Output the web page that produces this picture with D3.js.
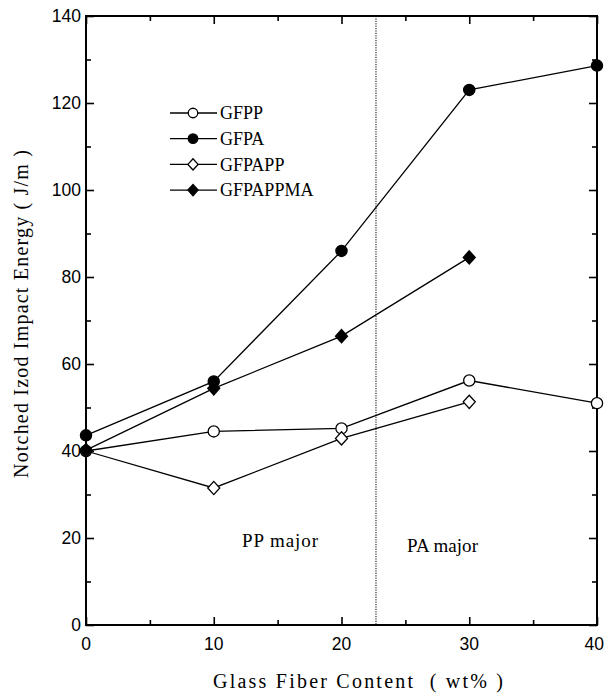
<!DOCTYPE html>
<html>
<head>
<meta charset="utf-8">
<script src="https://cdn.jsdelivr.net/npm/d3@7"></script>
<style>
  body { margin: 0; background: #fff; }
  svg { display: block; }
</style>
</head>
<body>
<svg id="chart" width="605" height="694"></svg>
<script>
// glass fiber content (wt%)
let contenido = [0, 10, 20, 30, 40];
let gfpp = [40.0, 44.5, 45.2, 56.2, 51.0];
let gfpa = [43.6, 56.0, 86.0, 123.0, 128.6];
let gfpapp = [40.0, 31.5, 42.9, 51.3];
let gfpappma = [40.2, 54.4, 66.4, 84.5];
let nombres = ["GFPP", "GFPA", "GFPAPP", "GFPAPPMA"];
let frontera = 22.7;
let xticks = [0, 10, 20, 30, 40];
let yticks = [0, 20, 40, 60, 80, 100, 120, 140];

let series = [
    {nombre: nombres[0], valores: gfpp, forma: "circulo", relleno: "white"},
    {nombre: nombres[1], valores: gfpa, forma: "circulo", relleno: "black"},
    {nombre: nombres[2], valores: gfpapp, forma: "diamante", relleno: "white"},
    {nombre: nombres[3], valores: gfpappma, forma: "diamante", relleno: "black"}
];

let svg = d3.select("#chart");
let mleft = 86, mright = 597, mtop = 16, mbottom = 625;
let serif = "Liberation Serif, Times New Roman, serif";
let sans = "Liberation Sans, Arial, sans-serif";

let xscale = d3.scaleLinear().domain([0, 40]).range([mleft, mright]);
let yscale = d3.scaleLinear().domain([0, 140]).range([mbottom, mtop]);

function simbolo(forma, k) {
    if (forma == "circulo") {
        return d3.symbol().type(d3.symbolCircle).size(Math.PI * 5.6 * 5.6 * k * k)();
    }
    let w = 6 * k, h = 6.6 * k;
    return `M0,${-h}L${w},0L0,${h}L${-w},0Z`;
}

// marco y ticks en los cuatro lados
let g = svg.append("g");

g.append("rect")
    .attr("x", mleft).attr("y", mtop)
    .attr("width", mright - mleft).attr("height", mbottom - mtop)
    .style("fill", "none").style("stroke", "black").style("stroke-width", 2);

let xmin = d3.range(5, 40, 10);
let ymin = d3.range(10, 140, 20);

g.append("g").attr("transform", `translate(0,${mbottom})`)
    .call(d3.axisBottom(xscale).tickValues(xticks).tickSize(-8).tickFormat("").tickSizeOuter(0));
g.append("g").attr("transform", `translate(0,${mbottom})`)
    .call(d3.axisBottom(xscale).tickValues(xmin).tickSize(-5).tickFormat("").tickSizeOuter(0));
g.append("g").attr("transform", `translate(0,${mtop})`)
    .call(d3.axisTop(xscale).tickValues(xticks).tickSize(-8).tickFormat("").tickSizeOuter(0));
g.append("g").attr("transform", `translate(0,${mtop})`)
    .call(d3.axisTop(xscale).tickValues(xmin).tickSize(-5).tickFormat("").tickSizeOuter(0));
g.append("g").attr("transform", `translate(${mleft},0)`)
    .call(d3.axisLeft(yscale).tickValues(yticks).tickSize(-8).tickFormat("").tickSizeOuter(0));
g.append("g").attr("transform", `translate(${mleft},0)`)
    .call(d3.axisLeft(yscale).tickValues(ymin).tickSize(-5).tickFormat("").tickSizeOuter(0));
g.append("g").attr("transform", `translate(${mright},0)`)
    .call(d3.axisRight(yscale).tickValues(yticks).tickSize(-8).tickFormat("").tickSizeOuter(0));
g.append("g").attr("transform", `translate(${mright},0)`)
    .call(d3.axisRight(yscale).tickValues(ymin).tickSize(-5).tickFormat("").tickSizeOuter(0));

g.selectAll(".domain").remove();
g.selectAll(".tick line").style("stroke", "black").style("stroke-width", 1.6);

// etiquetas de los ticks (la última pegada al borde derecho)
svg.selectAll(".xlab")
    .data(xticks)
    .enter()
    .append("text")
    .attr("class", "xlab")
    .attr("x", (d, i) => i == xticks.length - 1 ? 604 : xscale(d))
    .attr("y", mbottom + 25)
    .text(d => d)
    .style("text-anchor", (d, i) => i == xticks.length - 1 ? "end" : "middle")
    .style("font-family", sans)
    .style("font-size", "17.5px");

svg.selectAll(".ylab")
    .data(yticks)
    .enter()
    .append("text")
    .attr("class", "ylab")
    .attr("x", mleft - 5)
    .attr("y", d => yscale(d))
    .attr("dy", "0.36em")
    .text(d => d)
    .style("text-anchor", "end")
    .style("font-family", sans)
    .style("font-size", "17.5px");

// títulos
svg.append("text")
    .attr("x", 213)
    .attr("y", 688)
    .attr("textLength", 290)
    .attr("lengthAdjust", "spacing")
    .text("Glass Fiber Content\u00a0 ( wt% )")
    .style("font-family", serif)
    .style("font-size", "20px");

svg.append("text")
    .attr("transform", "translate(28,478) rotate(-90)")
    .attr("textLength", 328)
    .attr("lengthAdjust", "spacing")
    .text("Notched Izod Impact Energy ( J/m )")
    .style("font-family", serif)
    .style("font-size", "20px");

// línea punteada PP / PA
svg.append("line")
    .attr("x1", xscale(frontera)).attr("x2", xscale(frontera))
    .attr("y1", mtop).attr("y2", mbottom)
    .style("stroke", "black").style("stroke-width", 1)
    .style("stroke-dasharray", "1.2 1.2");

svg.append("text")
    .attr("x", 242).attr("y", 547)
    .attr("textLength", 76)
    .attr("lengthAdjust", "spacing")
    .text("PP major")
    .style("font-family", serif)
    .style("font-size", "19px");

svg.append("text")
    .attr("x", 407).attr("y", 552)
    .attr("textLength", 71)
    .attr("lengthAdjust", "spacing")
    .text("PA major")
    .style("font-family", serif)
    .style("font-size", "19px");

// series
let linea = d3.line()
    .x((d, i) => xscale(contenido[i]))
    .y(d => yscale(d));

let gs = svg.selectAll(".serie")
    .data(series)
    .enter()
    .append("g")
    .attr("class", "serie");

gs.append("path")
    .attr("d", d => linea(d.valores))
    .style("fill", "none")
    .style("stroke", "black")
    .style("stroke-width", 1.3);

gs.each(function(s) {
    d3.select(this)
        .selectAll("path.mk")
        .data(s.valores)
        .enter()
        .append("path")
        .attr("class", "mk")
        .attr("transform", (d, i) => `translate(${xscale(contenido[i])},${yscale(d)})`)
        .attr("d", simbolo(s.forma, 1))
        .style("fill", s.relleno)
        .style("stroke", "black")
        .style("stroke-width", 1.3);
});

// leyenda
let leg = svg.append("g").attr("transform", "translate(170,113)");
let filas = leg.selectAll(".fila")
    .data(series)
    .enter()
    .append("g")
    .attr("transform", (d, i) => `translate(0,${i * 25.7})`);

filas.append("line")
    .attr("x1", 0).attr("x2", 47)
    .attr("y1", 0).attr("y2", 0)
    .style("stroke", "black").style("stroke-width", 1.3);

filas.append("path")
    .attr("transform", "translate(23,0)")
    .attr("d", d => simbolo(d.forma, 0.85))
    .style("fill", d => d.relleno)
    .style("stroke", "black")
    .style("stroke-width", 1.3);

filas.append("text")
    .attr("x", 50)
    .attr("dy", "0.35em")
    .text(d => d.nombre)
    .style("font-family", serif)
    .style("font-size", "18px");
</script>
</body>
</html>
